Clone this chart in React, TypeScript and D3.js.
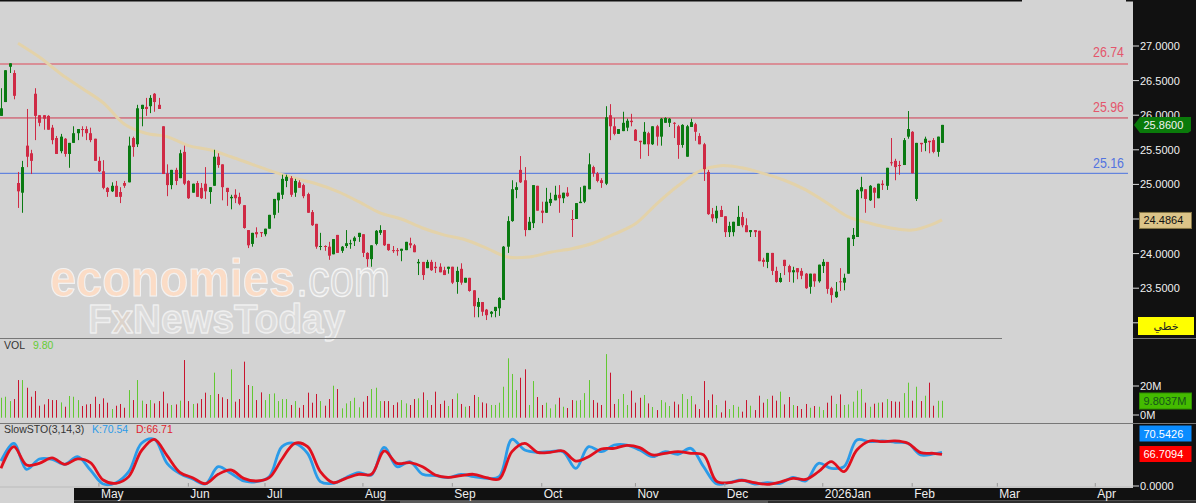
import * as d3 from "d3";

const W = 1196;
const H = 503;

// price candles
const opens = [
  25.99,26.19,26.70,26.61,25.02,24.88,25.56,25.45,26.31,26.00,
  26.00,25.99,25.82,25.67,25.48,25.66,25.44,25.60,25.74,25.80,
  25.80,25.74,25.66,25.34,25.19,24.95,24.90,24.98,24.89,25.02,
  25.03,25.67,25.58,26.09,26.12,26.13,26.31,26.15,25.84,25.16,
  24.99,25.21,25.09,25.47,25.05,24.88,25.02,24.95,25.01,24.89,
  24.98,25.40,25.29,24.95,24.80,24.85,24.82,24.70,24.34,24.14,
  24.31,24.31,24.28,24.36,24.56,24.77,24.85,25.05,25.09,24.88,
  25.03,24.99,24.86,24.60,24.43,24.10,24.11,24.10,23.99,24.27,
  24.04,24.11,24.14,24.18,24.24,24.28,24.01,23.92,24.14,24.30,
  24.34,24.14,24.05,24.05,24.04,24.05,24.15,24.12,23.86,23.88,
  23.79,23.88,23.81,23.81,23.76,23.78,23.81,23.59,23.78,23.58,
  23.65,23.47,23.23,23.30,23.19,23.13,23.17,23.21,23.33,24.10,
  24.47,24.92,25.21,25.06,24.34,24.44,24.98,24.62,24.59,24.73,
  24.77,24.85,24.80,24.88,24.50,24.50,24.73,24.75,24.93,25.25,
  25.16,25.06,25.01,26.00,25.84,25.73,25.77,25.82,25.92,25.79,
  25.63,25.58,25.74,25.58,25.84,25.69,25.89,25.89,25.89,25.84,
  25.57,25.40,25.83,25.87,25.70,25.58,25.18,24.57,24.51,24.63,
  24.54,24.31,24.31,24.40,24.53,24.41,24.31,24.34,24.33,23.91,
  23.88,24.01,23.75,23.59,23.91,23.82,23.73,23.79,23.75,23.71,
  23.52,23.71,23.60,23.82,23.88,23.50,23.37,23.60,23.58,23.71,
  24.21,24.24,24.90,24.93,24.77,24.95,24.80,25.01,24.98,25.32,
  25.34,25.28,25.28,25.69,25.76,24.79,25.60,25.60,25.63,25.64,
  25.47,25.60,
];
const highs = [
  26.39,26.65,26.75,26.65,25.18,25.34,26.09,25.50,26.39,26.00,
  26.00,26.00,25.86,25.70,25.73,25.67,25.60,25.84,25.80,25.84,
  25.84,25.82,25.66,25.40,25.35,24.96,25.03,25.05,24.96,25.05,
  25.69,25.69,26.15,26.15,26.25,26.29,26.32,26.25,25.84,25.29,
  25.21,25.24,25.50,25.56,25.06,25.01,25.05,25.02,25.25,24.96,
  25.50,25.45,25.29,24.95,24.85,24.93,24.88,24.70,24.34,24.30,
  24.38,24.31,24.36,24.56,24.79,24.88,25.14,25.14,25.12,25.08,
  25.06,25.01,24.88,24.63,24.43,24.30,24.12,24.17,24.21,24.27,
  24.11,24.34,24.20,24.25,24.30,24.28,24.02,24.12,24.34,24.41,
  24.34,24.14,24.11,24.08,24.07,24.17,24.23,24.14,23.92,23.88,
  23.91,23.91,23.88,23.86,23.81,23.81,23.81,23.81,23.86,23.65,
  23.65,23.47,23.36,23.30,23.20,23.17,23.23,23.37,24.11,24.54,
  25.06,25.03,25.41,25.25,24.53,24.99,24.98,24.75,24.95,24.88,
  24.98,24.99,24.88,24.96,24.63,24.73,24.96,24.98,25.45,25.27,
  25.18,25.09,26.13,26.16,25.96,25.80,26.05,25.95,26.02,25.80,
  25.63,25.90,25.76,25.84,25.86,25.96,25.97,25.96,25.90,25.86,
  25.87,25.86,25.95,25.89,25.74,25.60,25.21,24.66,24.69,24.69,
  24.54,24.46,24.46,24.69,24.60,24.51,24.34,24.34,24.33,23.94,
  24.01,24.01,23.81,23.72,23.91,23.84,23.81,23.79,23.79,23.72,
  23.71,23.71,23.84,23.92,23.88,23.52,23.59,23.79,23.71,24.23,
  24.37,24.93,25.11,24.93,24.99,24.96,25.01,25.06,25.24,25.67,
  25.37,25.34,25.67,26.06,25.77,25.60,25.60,25.69,25.63,25.67,
  25.69,25.86,
];
const lows = [
  25.99,26.19,26.61,26.23,24.66,24.59,25.25,25.15,25.64,25.84,
  25.79,25.79,25.58,25.44,25.45,25.40,25.24,25.60,25.64,25.69,
  25.64,25.61,25.34,25.18,24.93,24.82,24.89,24.82,24.73,24.95,
  25.03,25.40,25.54,25.84,25.99,26.03,26.05,26.09,25.15,24.83,
  24.93,24.99,25.09,24.99,24.79,24.88,24.82,24.79,24.79,24.72,
  24.98,25.24,24.77,24.69,24.64,24.73,24.70,24.36,24.08,24.10,
  24.23,24.24,24.25,24.36,24.51,24.59,24.79,24.96,24.82,24.82,
  24.95,24.80,24.59,24.40,24.07,24.05,24.04,23.91,23.99,24.01,
  24.01,24.08,24.07,24.11,24.17,23.95,23.81,23.81,24.12,24.27,
  24.11,24.04,24.01,23.97,23.89,24.05,24.08,24.02,23.69,23.62,
  23.79,23.75,23.72,23.73,23.69,23.71,23.56,23.42,23.55,23.58,
  23.45,23.08,23.08,23.10,23.04,23.08,23.08,23.10,23.33,24.01,
  24.46,24.80,25.02,24.25,24.34,24.37,24.62,24.44,24.59,24.69,
  24.77,24.59,24.73,24.82,24.24,24.50,24.73,24.73,24.93,25.11,
  25.03,24.95,24.99,25.64,25.71,25.73,25.77,25.77,25.84,25.63,
  25.37,25.58,25.41,25.57,25.56,25.56,25.89,25.83,25.67,25.37,
  25.53,25.40,25.83,25.63,25.58,25.05,24.56,24.46,24.44,24.53,
  24.24,24.24,24.25,24.40,24.38,24.31,24.24,24.24,23.89,23.81,
  23.79,23.69,23.58,23.58,23.69,23.59,23.58,23.63,23.63,23.49,
  23.42,23.52,23.58,23.72,23.42,23.29,23.36,23.46,23.47,23.71,
  24.11,24.24,24.80,24.59,24.76,24.66,24.80,24.92,24.92,25.27,
  25.06,25.14,25.28,25.66,25.16,24.76,25.47,25.48,25.45,25.45,
  25.40,25.60,
];
const closes = [
  26.10,26.65,26.75,26.28,24.90,25.25,25.40,25.34,25.99,25.89,
  25.95,25.79,25.64,25.44,25.69,25.44,25.60,25.74,25.80,25.79,
  25.74,25.64,25.34,25.19,24.95,24.89,24.98,24.82,24.82,24.98,
  25.56,25.54,26.10,26.15,26.09,26.25,26.19,26.09,25.15,24.99,
  25.21,25.05,25.45,25.01,24.80,25.01,24.82,24.80,24.90,24.96,
  25.40,25.28,24.96,24.89,24.82,24.80,24.72,24.37,24.12,24.30,
  24.28,24.30,24.36,24.56,24.79,24.88,25.08,25.11,24.85,25.05,
  24.95,24.83,24.59,24.41,24.10,24.11,24.10,23.97,24.21,24.01,
  24.10,24.15,24.15,24.23,24.30,24.01,23.92,24.12,24.33,24.34,
  24.12,24.05,24.04,24.04,24.07,24.17,24.12,24.02,23.88,23.69,
  23.88,23.76,23.79,23.73,23.69,23.81,23.58,23.75,23.58,23.65,
  23.46,23.24,23.30,23.16,23.11,23.16,23.23,23.36,24.10,24.47,
  24.93,24.96,25.03,24.34,24.46,24.99,24.62,24.59,24.75,24.79,
  24.85,24.80,24.88,24.83,24.49,24.73,24.75,24.98,25.29,25.16,
  25.05,25.02,25.97,25.84,25.73,25.80,25.89,25.92,25.90,25.63,
  25.61,25.76,25.58,25.84,25.69,25.95,25.96,25.95,25.88,25.57,
  25.86,25.84,25.90,25.76,25.58,25.22,24.57,24.51,24.62,24.53,
  24.31,24.40,24.46,24.53,24.41,24.31,24.34,24.31,23.89,23.88,
  24.01,23.75,23.59,23.65,23.82,23.73,23.76,23.73,23.68,23.50,
  23.71,23.60,23.84,23.88,23.49,23.40,23.45,23.59,23.65,24.23,
  24.27,24.92,24.96,24.79,24.98,24.88,25.01,24.99,25.24,25.31,
  25.25,25.27,25.64,25.80,25.16,25.60,25.58,25.66,25.61,25.47,
  25.69,25.86,
];

// volume in millions, one per candle
const volumes = [
  11.9,12.6,9.6,11,24.1,24.1,18.8,12.6,16.5,6.4,7.3,11,10.3,10.3,8.7,5.7,13.1,12.6,10.3,6.2,
  7.3,7.6,12.6,7.6,11.5,8.5,4.1,6.4,7.6,5,17.2,10.3,24.1,9.9,7.6,10.3,8,9.6,16.1,8,
  6.9,7.3,9.9,37.9,9.6,7.6,8,11,15.4,13.8,29.2,14.5,12.2,11,31.5,9.2,11,36.8,20.7,20,
  10.3,15.6,10.3,14.5,14.9,9.6,11,11,6.9,9.6,5,6.9,15.4,8.5,14.5,9.6,6.4,11,20.2,17.9,
  4.6,8,9.6,11.9,5.3,9.2,13.1,17.9,18.8,9.6,9.6,9.6,6.9,8.7,10.3,8,6.9,11,11.5,15.6,
  10.3,6.9,16.1,7.6,9.9,6.2,11,14.9,7.6,5.7,6.2,13.8,12.4,8.7,8,6.9,6.9,8.5,19.5,39.1,
  28.3,17.2,25.7,31.5,6.9,23.4,12.4,6.9,8.5,4.6,7.3,11.9,5.7,4.8,10.3,9.9,10.3,15.1,24.1,10.3,
  8.5,6.9,42,29.2,7.6,11,14.5,6.9,16.8,8.5,11.9,13.8,8,5.5,3.4,
  10.3,8.7,6.2,9.2,7.3,14.5,11,13.1,7.3,4.1,23.4,10.3,14.2,6.9,1.8,9.9,4.1,6.9,5.7,2.3,
  10.3,6.4,3.4,13.3,8.5,11,13.3,9.9,16.1,7.3,12.4,6.9,6.2,4.1,7.6,5,6.2,5.7,3.4,8.5,
  13.3,7.6,14.2,6.9,7.3,9.2,16.8,17.9,8.5,5.7,7.8,8.5,8.7,11,9.6,9.2,9.2,15.1,22.3,9.9,
  19.5,9.6,13.3,22.3,6.4,9.8,9.8,
];

// moving average read every five candles from candle 4, last point is the final candle
const maIndex = [...d3.range(4, 220, 5), 221];
const maValues = [
  27.04,26.84,26.6,26.39,26.18,25.87,25.74,25.69,25.56,25.5,25.4,25.29,25.18,25.09,25.01,
  24.9,24.75,24.59,24.5,24.37,24.27,24.2,24.08,23.95,23.95,24.02,24.07,24.15,24.28,24.43,
  24.72,24.98,25.19,25.27,25.24,25.16,25.06,24.92,24.73,24.53,24.44,24.37,24.34,24.43,24.4864,
];

// stochastic read every three candles, last point is the final candle
const stoIndex = [...d3.range(0, 222, 3), 221];
const kValues = [
  52.6,89.9,35.1,56.9,56.2,45.6,61.8,33.7,4.2,7,30.2,89.9,98.3,47.7,26,14.7,4.2,40.7,26.7,10.5,
  9.1,19.7,82.8,89.9,68.8,9.1,5.6,17.5,28.1,23.2,81.4,40.7,51.2,24.6,21.8,17.5,24.6,19.7,16.1,19.7,
  98.3,75.8,70.9,72.3,72.3,37.2,82.8,72.3,86.3,86.3,75.8,61.8,72.3,66.7,79.3,40.7,4.9,7,12.6,4.2,
  7,5.6,18.2,10.5,47.7,37.2,40.7,96.9,93.4,94.8,92,89.9,65.3,67.4,70.54,
];
const dValues = [
  37.2,82.8,44.2,47.7,59,45.6,56.9,49.1,12.6,5.6,19.7,74.4,98.3,63.9,28.8,17.5,4.9,24.6,33.7,16.1,
  10.5,17.5,56.9,89.9,82.8,30.2,7,16.1,24.6,24.6,73.7,47.7,49.1,40.7,23.2,18.2,21.8,24.6,17.5,14.7,
  72.3,89.9,70.9,70.9,73.7,52.6,61.8,77.9,79.3,85.6,80.7,65.3,68.8,72.3,68.8,65.3,10.5,7,11.9,7,
  3.5,8.4,16.1,14,30.2,51.2,30.2,75.8,94.8,93.4,94.8,89.9,70.2,68.8,66.71,
];

const priceTicks = [27, 26.5, 26, 25.5, 25, 24.5, 24, 23.5, 23];
const hiddenPriceLabels = [24.5, 23];
const volTicks = [20, 0];
const monthLabels = ["May","Jun","Jul","Aug","Sep","Oct","Nov","Dec","2026Jan","Feb","Mar","Apr"];
const monthIndex = [23,44,62,85,106,127,149,170,193,214,234,257];
const levels = [26.74, 25.96, 25.16];

const lastClose = 25.86;
const lastMa = 24.4864;
const lastVol = "9.8037M";
const lastK = 70.5426;
const lastD = 66.7094;

const GREEN = "#0a7a12";
const RED = "#cf2a45";
const FONT = "'Liberation Sans', Arial, sans-serif";

const x = d3.scaleLinear().domain([0, 221]).range([1, 942]);
const y = d3.scaleLinear().domain([27, 23]).range([46, 322.8]);
const yVol = d3.scaleLinear().domain([0, 20]).range([415, 386]);
const ySto = d3.scaleLinear().domain([0, 100]).range([486, 438.5]);

const maLine = d3.line<number>()
  .x((_, i) => x(maIndex[i]))
  .y(d => y(d))
  .curve(d3.curveCatmullRom);

const stoLine = d3.line<number>()
  .x((_, i) => x(stoIndex[i]))
  .y(d => ySto(d))
  .curve(d3.curveCatmullRom);

const ValueBox = (props: { top: number; fill: string; color: string; text: string; stroke?: string }) => {
  const { top, fill, color, text, stroke } = props;
  return (
    <g>
      <rect x={1139.5} y={top} width={52} height={16} fill={fill} stroke={stroke || "none"} />
      <text x={1143.5} y={top + 12} fontSize={11} fill={color} fontFamily={FONT}>{text}</text>
    </g>
  );
};

export default function App() {
  return (
    <svg width={W} height={H} style={{ position: "absolute", left: 0, top: 0, display: "block" }}>
      <rect width={W} height={H} fill="#d3d3d3" />
      <rect width={1022} height={1.5} fill="#111" />
      <rect x={1126} width={10} height={1.5} fill="#111" />

      {/* watermark */}
      <g fontFamily={FONT} strokeLinejoin="round">
        <text x={50} y={296} fontSize={52} fontWeight="bold" textLength={245} lengthAdjust="spacingAndGlyphs" fill="#fbdcc6" stroke="#f2f2f2" strokeWidth={1.2}>economies</text>
        <text x={296} y={296} fontSize={52} textLength={94} lengthAdjust="spacingAndGlyphs" fill="#d8d8d8" stroke="#f4f4f4" strokeWidth={1.4}>.com</text>
        <text x={88} y={333} fontSize={40} fontWeight="bold" textLength={257} lengthAdjust="spacingAndGlyphs" fill="#dcdcdc" stroke="#efefef" strokeWidth={1.4}>
          F<tspan fill="#dcd3cb">x</tspan>NewsToday
        </text>
      </g>

      {/* levels */}
      <line x1={0} x2={1128} y1={y(levels[0])} y2={y(levels[0])} stroke="#d98e96" strokeWidth={2} />
      <line x1={0} x2={1128} y1={y(levels[1])} y2={y(levels[1])} stroke="#d03a50" strokeWidth={1} />
      <line x1={0} x2={1128} y1={y(levels[2])} y2={y(levels[2])} stroke="#4a72e0" strokeWidth={1} />
      <text x={1093} y={57} fontSize={14} textLength={31} lengthAdjust="spacingAndGlyphs" fill="#e4566c" fontFamily={FONT}>{levels[0]}</text>
      <text x={1093} y={112} fontSize={14} textLength={31} lengthAdjust="spacingAndGlyphs" fill="#e4566c" fontFamily={FONT}>{levels[1]}</text>
      <text x={1093} y={167.5} fontSize={14} textLength={31} lengthAdjust="spacingAndGlyphs" fill="#5274e0" fontFamily={FONT}>{levels[2]}</text>

      <path d={maLine(maValues) || ""} fill="none" stroke="#e3d2a9" strokeWidth={3} />

      {/* candles */}
      {closes.map((c, i) => {
        const up = c >= opens[i];
        const color = up ? GREEN : RED;
        const cx = Math.round(x(i));
        const top = y(Math.max(opens[i], c));
        const bottom = y(Math.min(opens[i], c));
        return (
          <g key={i} fill={color}>
            <rect x={cx} y={y(highs[i])} width={1} height={y(lows[i]) - y(highs[i])} />
            <rect x={cx - 1} y={top} width={3} height={Math.max(bottom - top, 1)} />
          </g>
        );
      })}

      {/* volume */}
      <line x1={0} x2={1002} y1={338.5} y2={338.5} stroke="#777" />
      <text x={4} y={348.5} fontSize={10.5} fill="#333" fontFamily={FONT}>VOL</text>
      <text x={33} y={348.5} fontSize={10.5} fill="#66cc33" fontFamily={FONT}>{volumes[volumes.length - 1].toFixed(2)}</text>
      {volumes.map((v, i) => (
        <rect key={i} x={Math.round(x(i))} y={yVol(v)} width={1} height={417.7 - yVol(v)}
          fill={closes[i] >= opens[i] ? "#62c832" : "#c8142e"} />
      ))}
      <line x1={0} x2={W} y1={423.5} y2={423.5} stroke="#777" />

      {/* stochastic */}
      <text x={4} y={433} fontSize={10.5} fill="#333" fontFamily={FONT}>SlowSTO(3,14,3)</text>
      <text x={92} y={433} fontSize={10.5} fill="#2b9be8" fontFamily={FONT}>K:{lastK.toFixed(2)}</text>
      <text x={136} y={433} fontSize={10.5} fill="#e01e2e" fontFamily={FONT}>D:{lastD.toFixed(2)}</text>
      <path d={stoLine(kValues) || ""} fill="none" stroke="#2b9be8" strokeWidth={2.8} />
      <path d={stoLine(dValues) || ""} fill="none" stroke="#e0101e" strokeWidth={2.8} />
      {monthIndex.map(m => (
        <line key={m} x1={x(m)} x2={x(m)} y1={483} y2={487} stroke="#999" />
      ))}

      {/* date axis */}
      <line x1={0} x2={1133} y1={487} y2={487} stroke="#bbb" />
      <rect x={74} y={488} width={1059} height={12.5} fill="#111" />
      <rect x={74} y={500.5} width={W - 74} height={2.5} fill="#2e2e2e" />
      <rect x={400} y={500.5} width={368} height={2.5} fill="#5a5a5a" />
      {monthLabels.map((m, i) => (
        <text key={m} x={x(monthIndex[i]) + 2} y={498} fontSize={12} fill="#eee" fontFamily={FONT}>{m}</text>
      ))}

      {/* right axis */}
      <rect x={1133} y={0} width={63} height={500.5} fill="#111" />
      <line x1={1133} x2={W} y1={423.5} y2={423.5} stroke="#777" />
      <line x1={1133} x2={W} y1={338.5} y2={338.5} stroke="#777" />
      {priceTicks.map(t => (
        <g key={t}>
          <line x1={1133} x2={1139} y1={y(t)} y2={y(t)} stroke="#ddd" />
          {!hiddenPriceLabels.includes(t) && (
            <text x={1140} y={y(t) + 4} fontSize={11} fill="#f0f0f0" fontFamily={FONT}>{t.toFixed(4)}</text>
          )}
        </g>
      ))}
      {volTicks.map(t => (
        <g key={t}>
          <line x1={1133} x2={1139} y1={yVol(t)} y2={yVol(t)} stroke="#ddd" />
          <text x={1140} y={yVol(t) + 4} fontSize={11} fill="#f0f0f0" fontFamily={FONT}>{t}M</text>
        </g>
      ))}
      <line x1={1133} x2={1139} y1={ySto(0)} y2={ySto(0)} stroke="#ddd" />
      <text x={1140} y={ySto(0) + 4} fontSize={11} fill="#f0f0f0" fontFamily={FONT}>0.0000</text>

      {/* last value tags */}
      <path d={d3.line()([[1134, y(lastClose)], [1140, y(lastClose) - 8], [1191, y(lastClose) - 8], [1191, y(lastClose) + 6], [1188, y(lastClose) + 8], [1140, y(lastClose) + 8]]) + "Z"} fill="#0a7a0a" />
      <text x={1143.5} y={y(lastClose) + 4} fontSize={11} fill="#f2f2f2" fontFamily={FONT}>{lastClose.toFixed(4)}</text>
      <ValueBox top={y(lastMa) - 7.5} fill="#dcc488" stroke="#857545" color="#111" text={lastMa.toFixed(4)} />
      <rect x={1138} y={317} width={56} height={18} fill="#ffff00" />
      <text x={1166} y={330} fontSize={11} textAnchor="middle" fill="#222" fontFamily="'DejaVu Sans', sans-serif">خطي</text>
      <ValueBox top={393} fill="#44bb00" stroke="#2f8f00" color="#14551a" text={lastVol} />
      <ValueBox top={425.5} fill="#0a8cff" color="#fff" text={lastK.toFixed(4)} />
      <ValueBox top={446} fill="#ff0000" color="#fff" text={lastD.toFixed(4)} />
    </svg>
  );
}
